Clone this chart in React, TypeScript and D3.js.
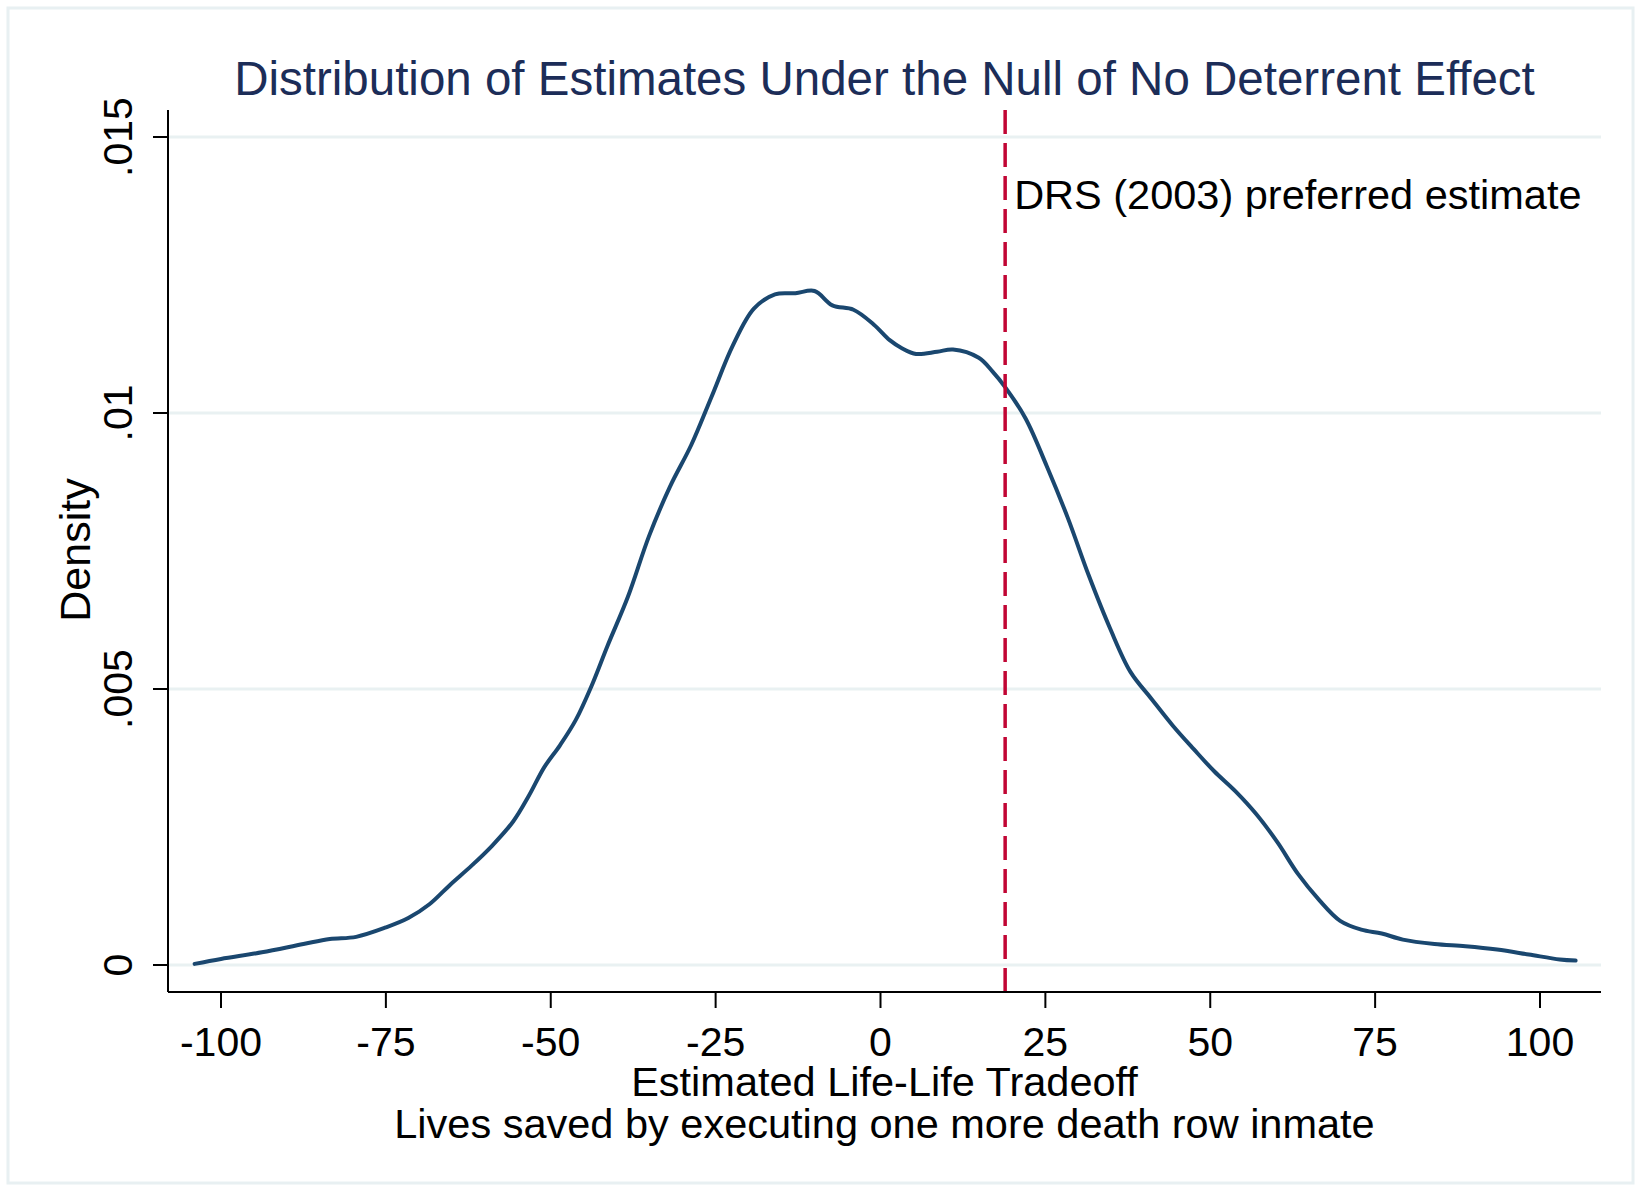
import React from "react";
import * as d3 from "d3";

const W = 1641;
const H = 1191;

const xTicks = [-100, -75, -50, -25, 0, 25, 50, 75, 100];
const yTicks = [0, 0.005, 0.01, 0.015];
const yTickLabels = ["0", ".005", ".01", ".015"];

const estX = [
  -104, -100, -93.8, -87.5, -83.5, -79.5, -75, -71.6, -68.4, -65.2, -62, -58.9, -55.7, -53.3, -51,
  -48.6, -46.2, -43.8, -41.4, -38.3, -35.1, -31.9, -28.7, -25.6, -22.4, -19.2, -16, -12.9, -10,
  -7.3, -4.1, -1, 1.4, 3.3, 5.4, 8.6, 11, 14.9, 17, 18.9, 22, 25.2, 28.4, 31.6, 34.8, 37.9, 41.1,
  44.3, 47.5, 50.6, 53.8, 57, 60.2, 63.3, 66.5, 69.7, 72.9, 76, 79.2, 84, 88.7, 93.5, 98.3, 103, 105.4,
];
const densityY = [
  0.00002, 0.00011, 0.00023, 0.00038, 0.00047, 0.00051, 0.00068, 0.00085, 0.0011, 0.00146, 0.0018,
  0.00216, 0.0026, 0.00307, 0.00358, 0.00398, 0.00444, 0.00506, 0.00578, 0.00667, 0.00777, 0.00867,
  0.00942, 0.0103, 0.01122, 0.01189, 0.01215, 0.01217, 0.01221, 0.01195, 0.01187, 0.0116, 0.01132,
  0.01117, 0.01107, 0.01111, 0.01115, 0.011, 0.01075, 0.01047, 0.0099, 0.00904, 0.0081, 0.00705,
  0.0061, 0.00531, 0.00482, 0.00434, 0.00391, 0.00351, 0.00315, 0.00273, 0.00222, 0.00165, 0.00118,
  0.0008, 0.00064, 0.00057, 0.00046, 0.00038, 0.00034, 0.00028, 0.00019, 0.0001, 0.00008,
];
const drsEstimate = 18.9;

const title = "Distribution of Estimates Under the Null of No Deterrent Effect";
const xTitle1 = "Estimated Life-Life Tradeoff";
const xTitle2 = "Lives saved by executing one more death row inmate";
const yTitle = "Density";
const annotation = "DRS (2003) preferred estimate";

const FONT = "'Liberation Sans', Arial, Helvetica, sans-serif";

export default function App() {
  const plotL = 168;
  const plotR = 1601;
  const plotT = 110;
  const plotB = 992;

  const x = d3.scaleLinear().domain([-100, 100]).range([221, 1540]);
  const y = d3.scaleLinear().domain([0, 0.015]).range([965, 137]);

  const pts = estX.map((v, i) => [v, densityY[i]] as [number, number]);
  const line = d3
    .line<[number, number]>()
    .x((d) => x(d[0]))
    .y((d) => y(d[1]))
    .curve(d3.curveCatmullRom.alpha(0.5));

  const cx = (plotL + plotR) / 2;

  return (
    <svg
      width={W}
      height={H}
      style={{ position: "absolute", left: 0, top: 0, background: "#fff" }}
      fontFamily={FONT}
    >
      <rect x={0} y={0} width={W} height={H} fill="#fff" />
      <rect x={8} y={8} width={W - 16} height={H - 16} fill="none" stroke="#e8f0f2" strokeWidth={3} />

      {/* gridlines */}
      {yTicks.map((t) => (
        <line key={"g" + t} x1={plotL} x2={plotR} y1={y(t)} y2={y(t)} stroke="#e9f1f2" strokeWidth={3} />
      ))}

      {/* density curve */}
      <path d={line(pts) || ""} fill="none" stroke="#1a476f" strokeWidth={4} strokeLinejoin="round" strokeLinecap="round" />

      {/* DRS line */}
      <line
        x1={x(drsEstimate)}
        x2={x(drsEstimate)}
        y1={plotT}
        y2={plotB}
        stroke="#c10534"
        strokeWidth={3.5}
        strokeDasharray="24,9"
      />
      <text x={x(drsEstimate) + 9} y={209} fontSize={41.5} fill="#000">
        {annotation}
      </text>

      {/* axes */}
      <line x1={plotL} x2={plotL} y1={plotT} y2={plotB} stroke="#000" strokeWidth={2} />
      <line x1={plotL} x2={plotR} y1={plotB} y2={plotB} stroke="#000" strokeWidth={2} />

      {yTicks.map((t, i) => (
        <g key={"yt" + t}>
          <line x1={plotL - 15} x2={plotL} y1={y(t)} y2={y(t)} stroke="#000" strokeWidth={2} />
          <text
            transform={`translate(${plotL - 36},${y(t)}) rotate(-90)`}
            textAnchor="middle"
            fontSize={41}
            fill="#000"
          >
            {yTickLabels[i]}
          </text>
        </g>
      ))}

      {xTicks.map((t) => (
        <g key={"xt" + t}>
          <line x1={x(t)} x2={x(t)} y1={plotB} y2={plotB + 16} stroke="#000" strokeWidth={2} />
          <text x={x(t)} y={1056} textAnchor="middle" fontSize={41} fill="#000">
            {t}
          </text>
        </g>
      ))}

      <text x={cx} y={95} textAnchor="middle" fontSize={47.5} fill="#1c2d58">
        {title}
      </text>
      <text x={cx} y={1096} textAnchor="middle" fontSize={41.5} fill="#000">
        {xTitle1}
      </text>
      <text x={cx} y={1138} textAnchor="middle" fontSize={41.5} fill="#000">
        {xTitle2}
      </text>
      <text transform={`translate(90,550) rotate(-90)`} textAnchor="middle" fontSize={43} fill="#000">
        {yTitle}
      </text>
    </svg>
  );
}
